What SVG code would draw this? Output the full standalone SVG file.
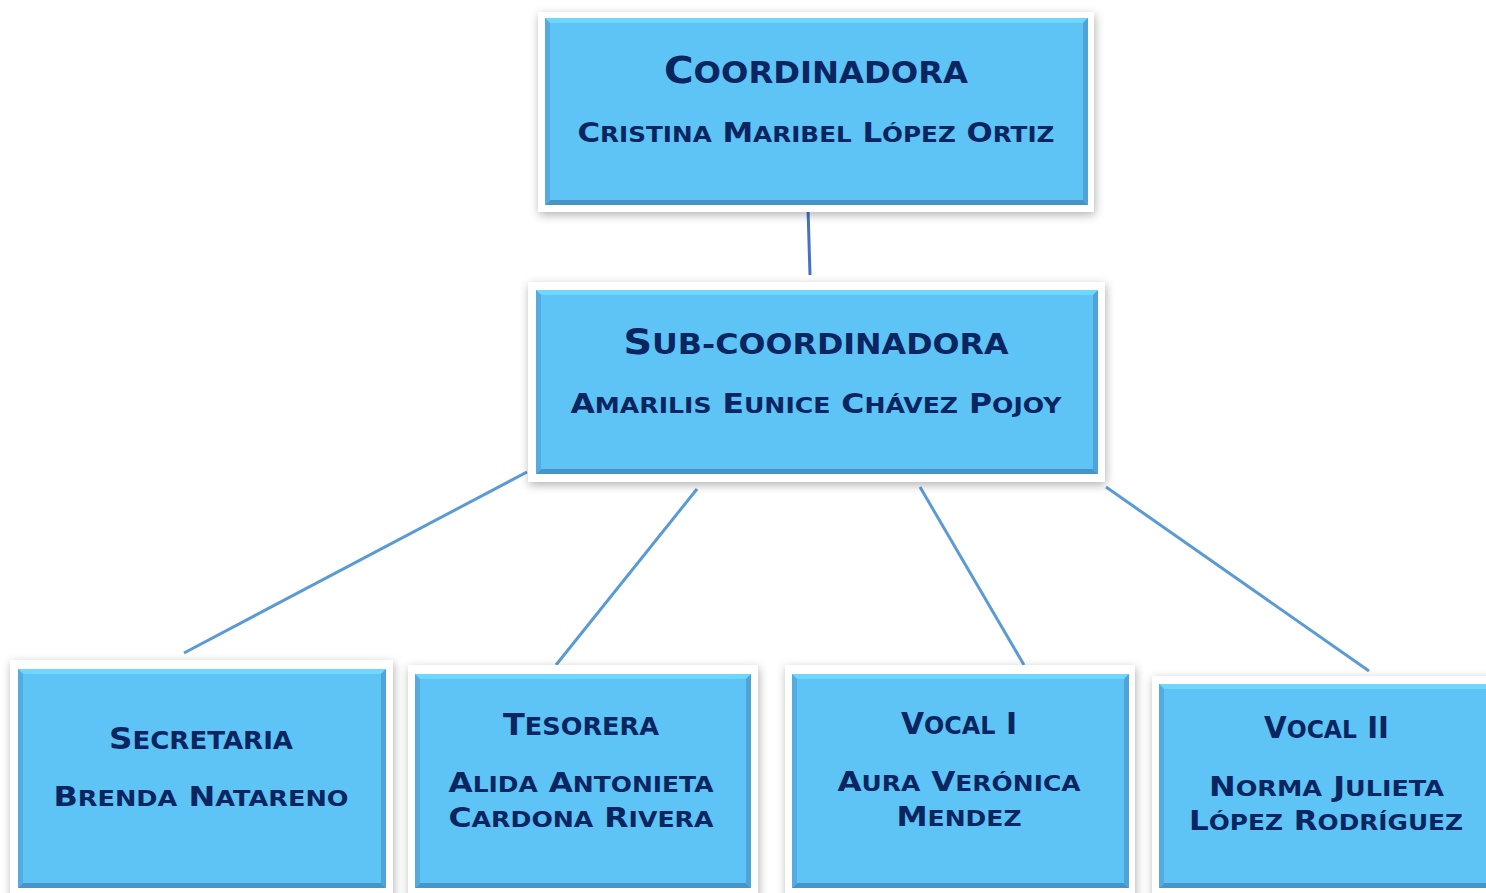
<svg xmlns="http://www.w3.org/2000/svg" width="1486" height="893" viewBox="0 0 1486 893">
<defs>
<filter id="sh" x="-10%" y="-10%" width="120%" height="130%">
<feDropShadow dx="1" dy="3" stdDeviation="5" flood-color="#000" flood-opacity="0.3"/>
</filter>
<style>
.frame{fill:#ffffff;filter:url(#sh)}
.blue{fill:#5ec3f5}
.bt{fill:#6fd6ff}
.bb{fill:#4795c8}
.bl{fill:#53abdf}
.br{fill:#4fa3d6}
text{font-family:"DejaVu Sans","Liberation Sans",sans-serif;font-weight:bold;fill:#0b2560;text-anchor:middle}
.s{font-size:0.8em}
.conn{stroke:#5b9bd5;stroke-width:3;fill:none}
.conn2{stroke:#4472c4;stroke-width:3;fill:none}
</style>
</defs>
<rect width="1486" height="893" fill="#ffffff"/>
<g id="connectors">
<line class="conn2" x1="808" y1="208" x2="810" y2="275"/>
<line class="conn" x1="527" y1="472" x2="184" y2="653"/>
<line class="conn" x1="697" y1="489" x2="556" y2="665"/>
<line class="conn" x1="920" y1="487" x2="1024" y2="665"/>
<line class="conn" x1="1106" y1="487" x2="1369" y2="671"/>
</g>
<g id="coordinadora">
<rect class="frame" x="538" y="12" width="556" height="200"/>
<rect class="blue" x="545" y="18" width="543" height="187"/>
<polygon class="bt" points="545,18 1088,18 1083,23 550,23"/>
<polygon class="bb" points="545,205 1088,205 1083,200 550,200"/>
<polygon class="bl" points="545,18 550,23 550,200 545,205"/>
<polygon class="br" points="1088,18 1083,23 1083,200 1088,205"/>
<text x="816" y="83" font-size="37" textLength="304" lengthAdjust="spacingAndGlyphs">C<tspan class="s">OORDINADORA</tspan></text>
<text x="816" y="142" font-size="26" textLength="477" lengthAdjust="spacingAndGlyphs">C<tspan class="s">RISTINA</tspan> M<tspan class="s">ARIBEL</tspan> L<tspan class="s">ÓPEZ</tspan> O<tspan class="s">RTIZ</tspan></text>
</g>
<g id="subcoordinadora">
<rect class="frame" x="528" y="282" width="577" height="200"/>
<rect class="blue" x="536" y="290" width="562" height="184"/>
<polygon class="bt" points="536,290 1098,290 1093,295 541,295"/>
<polygon class="bb" points="536,474 1098,474 1093,469 541,469"/>
<polygon class="bl" points="536,290 541,295 541,469 536,474"/>
<polygon class="br" points="1098,290 1093,295 1093,469 1098,474"/>
<text x="816" y="354" font-size="36" textLength="385" lengthAdjust="spacingAndGlyphs">S<tspan class="s">UB-COORDINADORA</tspan></text>
<text x="816" y="413" font-size="26" textLength="491" lengthAdjust="spacingAndGlyphs">A<tspan class="s">MARILIS</tspan> E<tspan class="s">UNICE</tspan> C<tspan class="s">HÁVEZ</tspan> P<tspan class="s">OJOY</tspan></text>
</g>
<g id="secretaria">
<rect class="frame" x="10" y="660" width="383" height="245"/>
<rect class="blue" x="18" y="669" width="368" height="219"/>
<polygon class="bt" points="18,669 386,669 381,674 23,674"/>
<polygon class="bb" points="18,888 386,888 381,883 23,883"/>
<polygon class="bl" points="18,669 23,674 23,883 18,888"/>
<polygon class="br" points="386,669 381,674 381,883 386,888"/>
<text x="201" y="749" font-size="30" textLength="184" lengthAdjust="spacingAndGlyphs">S<tspan class="s">ECRETARIA</tspan></text>
<text x="201" y="806" font-size="27" textLength="295" lengthAdjust="spacingAndGlyphs">B<tspan class="s">RENDA</tspan> N<tspan class="s">ATARENO</tspan></text>
</g>
<g id="tesorera">
<rect class="frame" x="408" y="665" width="350" height="240"/>
<rect class="blue" x="415" y="674" width="336" height="214"/>
<polygon class="bt" points="415,674 751,674 746,679 420,679"/>
<polygon class="bb" points="415,888 751,888 746,883 420,883"/>
<polygon class="bl" points="415,674 420,679 420,883 415,888"/>
<polygon class="br" points="751,674 746,679 746,883 751,888"/>
<text x="581" y="735" font-size="30" textLength="156" lengthAdjust="spacingAndGlyphs">T<tspan class="s">ESORERA</tspan></text>
<text x="581" y="792" font-size="27" textLength="265" lengthAdjust="spacingAndGlyphs">A<tspan class="s">LIDA</tspan> A<tspan class="s">NTONIETA</tspan></text>
<text x="581" y="827" font-size="27" textLength="265" lengthAdjust="spacingAndGlyphs">C<tspan class="s">ARDONA</tspan> R<tspan class="s">IVERA</tspan></text>
</g>
<g id="vocal1">
<rect class="frame" x="785" y="665" width="350" height="240"/>
<rect class="blue" x="792" y="674" width="337" height="214"/>
<polygon class="bt" points="792,674 1129,674 1124,679 797,679"/>
<polygon class="bb" points="792,888 1129,888 1124,883 797,883"/>
<polygon class="bl" points="792,674 797,679 797,883 792,888"/>
<polygon class="br" points="1129,674 1124,679 1124,883 1129,888"/>
<text x="959" y="734" font-size="30" textLength="116" lengthAdjust="spacingAndGlyphs">V<tspan class="s">OCAL</tspan> I</text>
<text x="959" y="791" font-size="27" textLength="243" lengthAdjust="spacingAndGlyphs">A<tspan class="s">URA</tspan> V<tspan class="s">ERÓNICA</tspan></text>
<text x="959" y="826" font-size="27" textLength="125" lengthAdjust="spacingAndGlyphs">M<tspan class="s">ENDEZ</tspan></text>
</g>
<g id="vocal2">
<rect class="frame" x="1152" y="676" width="345" height="230"/>
<rect class="blue" x="1159" y="684" width="335" height="204"/>
<polygon class="bt" points="1159,684 1494,684 1489,689 1164,689"/>
<polygon class="bb" points="1159,888 1494,888 1489,883 1164,883"/>
<polygon class="bl" points="1159,684 1164,689 1164,883 1159,888"/>
<text x="1326.5" y="738" font-size="30" textLength="125" lengthAdjust="spacingAndGlyphs">V<tspan class="s">OCAL</tspan> II</text>
<text x="1326.5" y="796" font-size="27" textLength="235" lengthAdjust="spacingAndGlyphs">N<tspan class="s">ORMA</tspan> J<tspan class="s">ULIETA</tspan></text>
<text x="1326" y="830" font-size="27" textLength="274" lengthAdjust="spacingAndGlyphs">L<tspan class="s">ÓPEZ</tspan> R<tspan class="s">ODRÍGUEZ</tspan></text>
</g>
</svg>
